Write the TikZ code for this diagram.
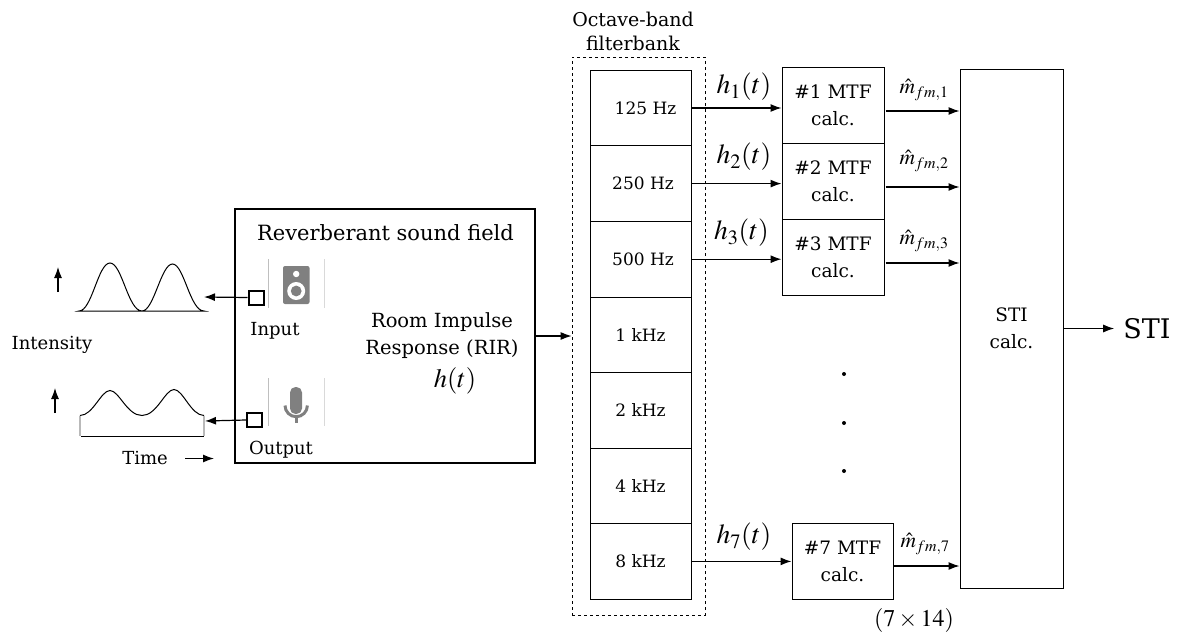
\documentclass[tikz,border=0pt]{standalone}
\usepackage{mathptmx}
\usepackage[no-math]{fontspec}
\setmainfont{DejaVu Serif}
\usetikzlibrary{arrows.meta}
\newcommand{\fsx}[2]{\fontsize{#2}{#2}\selectfont\setlength{\baselineskip}{#1em}}
\newcommand{\fs}[1]{\fsx{1.2}{#1}}
\begin{document}
\begin{tikzpicture}[x=1pt,y=-1pt,
  fbox/.style={draw=black,line width=0.8pt,minimum width=101pt,minimum height=75.6pt,inner sep=0pt,font=\fs{17}},
  mbox/.style={draw=black,line width=1pt,minimum width=102pt,minimum height=76pt,inner sep=0pt,align=center,font=\fsx{1.45}{18.5}},
  arr/.style={-{Latex[length=11pt,width=8pt]},line width=1.2pt},
  lab/.style={inner sep=0pt,font=\fs{18},align=center},
  port/.style={draw=black,line width=2pt,minimum width=15pt,minimum height=14pt,inner sep=0pt},
  hl/.style={inner sep=0pt,font=\fs{27.5}},
  ml/.style={inner sep=0pt,font=\fs{21.5}},
  icon/.style={draw=gray!30,line width=0.6pt}]
\useasboundingbox (0,0) rectangle (1179,632);
% title
\node[lab,font=\fsx{1.27}{19}] (title) at (633,31) {Octave-band\\filterbank};
% filterbank
\node[draw,dashed,line width=0.8pt,minimum width=133pt,minimum height=558pt,inner sep=0pt] (fb) at (638.5,336) {};
\node[fbox] (f1) at (640.5,108) {\hspace*{10pt}125 Hz};
\node[fbox] (f2) at (640.5,183.6) {\hspace*{5pt}250 Hz};
\node[fbox] (f3) at (640.5,259.2) {\hspace*{5pt}500 Hz};
\node[fbox] (f4) at (640.5,334.8) {1 kHz};
\node[fbox] (f5) at (640.5,410.4) {2 kHz};
\node[fbox] (f6) at (640.5,486) {4 kHz};
\node[fbox] (f7) at (640.5,561.4) {8 kHz};
% MTF
\node[mbox] (m1) at (833,105) {\#1 MTF\\calc.};
\node[mbox] (m2) at (833,181) {\#2 MTF\\calc.};
\node[mbox] (m3) at (833,257) {\#3 MTF\\calc.};
\node[mbox,minimum width=101pt] (m7) at (842.5,561) {\#7 MTF\\calc.};
\node[draw,line width=1pt,minimum width=103pt,minimum height=519pt,inner sep=0pt,align=center,font=\fsx{1.45}{18.5}] (sti) at (1011.5,328.5) {STI\\calc.};
\node[inner sep=0pt,font=\fs{27}] (stiout) at (1147,328.5) {STI};
% arrows filter to MTF
\draw[arr] (f1.east) -- (f1.east -| m1.west);
\draw[arr] (f2.east) -- (f2.east -| m2.west);
\draw[arr] (f3.east) -- (f3.east -| m3.west);
\draw[arr] (f7.east) -- (f7.east -| m7.west);
\node[hl] (h1) at (744,87) {$h_1(t)$};
\node[hl] (h2) at (744,157) {$h_2(t)$};
\node[hl] (h3) at (741.5,233) {$h_3(t)$};
\node[hl] (h7) at (744,537) {$h_7(t)$};
% arrows MTF to STI
\draw[arr] ([shift={(1pt,-6pt)}]m1.east) -- ([yshift=-6pt]m1.east -| sti.west);
\draw[arr] ([shift={(1pt,-6pt)}]m2.east) -- ([yshift=-6pt]m2.east -| sti.west);
\draw[arr] ([shift={(1pt,-6pt)}]m3.east) -- ([yshift=-6pt]m3.east -| sti.west);
\draw[arr] (m7.east |- 0,566) -- (sti.west |- 0,566);
\node[ml] (m1l) at (924,90) {$\hat m_{fm,1}$};
\node[ml] (m2l) at (924,161) {$\hat m_{fm,2}$};
\node[ml] (m3l) at (924,241) {$\hat m_{fm,3}$};
\node[ml] (m7l) at (925,544) {$\hat m_{fm,7}$};
\draw[arr,shorten >=9pt] (sti.east) -- (stiout.west);
% dots
\foreach \y in {374,423,471} \fill (844,\y) circle (2pt);
\node[lab,font=\fs{24}] (size) at (914,620) {$(7\times 14)$};
% room
\node[draw,line width=2pt,minimum width=300pt,minimum height=254pt,inner sep=0pt] (room) at (385,336) {};
\node[lab,font=\fs{21}] (rlab) at (385.5,233) {Reverberant sound field};
\node[lab,font=\fsx{1.4}{19.5}] (rir) at (442,353.5) {Room Impulse\\Response (RIR)\\[6pt]\hspace*{26pt}{\fs{26.5}$h(t)$}};
\draw[arr] (room.east) -- (fb.west);
% speaker icon
\draw[icon,draw=gray!50] (268.5,259) -- (268.5,308);
\draw[icon] (324.5,259) -- (324.5,308);
\fill[black!50,rounded corners=2pt] (283,266) rectangle (309.5,304);
\fill[white] (296.2,274) circle (3.2pt);
\fill[white] (296.2,291) circle (9pt);
\fill[black!50] (296.2,291) circle (5.4pt);
% mic icon
\draw[icon,draw=gray!50] (268.5,378) -- (268.5,426);
\draw[icon] (324.5,378) -- (324.5,426);
\fill[black!50,rounded corners=5.5pt] (290,387) rectangle (302,414);
\draw[black!50,line width=3pt] (285,405.5) arc[start angle=180,end angle=360,radius=11.2pt];
\draw[black!50,line width=3pt] (296.2,417) -- (296.2,423);
% ports
\node[port] (pin) at (256,297.5) {};
\node[port] (pout) at (254.5,420) {};
\node[lab] (inl) at (275,331) {Input};
\node[lab] (outl) at (281,449.5) {Output};
% waveforms
\coordinate (w1) at (204,297);
\coordinate (w2) at (205,421);
\draw[arr] (pin.west) -- (w1);
\draw[arr] (pout.west) -- (w2);
\draw[line width=1pt] (79,311) .. controls (92,311) and (98,263) .. (110,263) .. controls (122,263) and (128,311) .. (142,311) .. controls (154,311) and (161,264) .. (172.5,264) .. controls (184,264) and (190,311) .. (204,311) -- cycle;
\draw[line width=1pt,draw=black] (80,415.5) .. controls (93,415.5) and (101,390.5) .. (110,390.5) .. controls (119,390.5) and (127,415.5) .. (142,415.5) .. controls (157,415.5) and (165,389.5) .. (174,389.5) .. controls (183,389.5) and (191,415.5) .. (204,415.5);
\draw[gray!55,line width=1.6pt] (80,415.5) -- (80,436) (204,415.5) -- (204,436);
\draw[line width=1pt] (81,436) -- (204,436);
% axis arrows
\coordinate (a1s) at (58,292); \coordinate (a1e) at (58,267);
\coordinate (a2s) at (55,413); \coordinate (a2e) at (55,388);
\coordinate (ts) at (185,458.5); \coordinate (te) at (214,458.5);
\draw[arr] (a1s) -- (a1e);
\draw[arr] (a2s) -- (a2e);
\draw[arr] (ts) -- (te);
\node[lab] (intl) at (52,345) {Intensity};
\node[lab] (timel) at (145,458) {Time};
\end{tikzpicture}
\end{document}
